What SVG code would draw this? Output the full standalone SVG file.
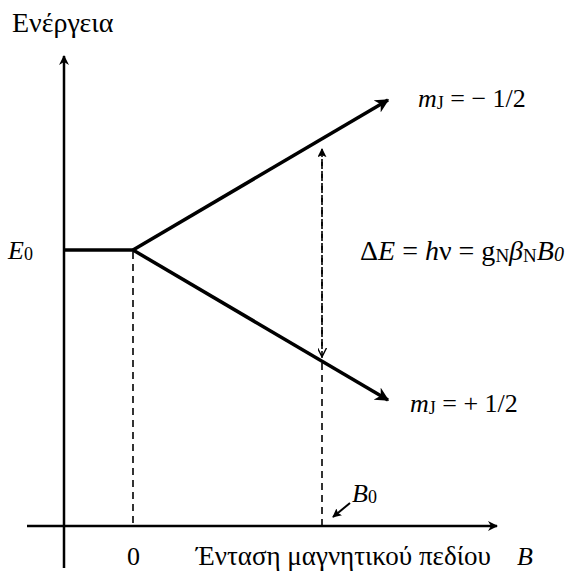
<svg xmlns="http://www.w3.org/2000/svg" width="570" height="571" viewBox="0 0 570 571">
<style>
text{font-family:"Liberation Serif","DejaVu Serif",serif;fill:#000}
.t{font-size:26px}
.g{font-size:28px}
.i{font-style:italic}
.s{font-size:18px}
.ax{stroke:#000;stroke-width:2.5;fill:none}
.lv{stroke:#000;stroke-width:3.5;fill:none}
.ds{stroke:#000;stroke-width:1.6;stroke-dasharray:7,5;fill:none}
</style>
<defs>
<marker id="ah" viewBox="0 0 10 10" refX="9" refY="5" markerWidth="10" markerHeight="10" markerUnits="userSpaceOnUse" orient="auto">
<path d="M0,0 L10,5 L0,10 L3,5 Z" fill="#000"/>
</marker>
<marker id="ahl" viewBox="0 0 10 10" refX="9" refY="5" markerWidth="14" markerHeight="14" markerUnits="userSpaceOnUse" orient="auto">
<path d="M0,0 L10,5 L0,10 L3,5 Z" fill="#000"/>
</marker>
<marker id="ahs" viewBox="0 0 10 10" refX="9" refY="5" markerWidth="9" markerHeight="9" markerUnits="userSpaceOnUse" orient="auto">
<path d="M0,0 L10,5 L0,10 L2,5 Z" fill="#000"/>
</marker>
<marker id="ahv" viewBox="0 0 10 10" refX="9" refY="5" markerWidth="9" markerHeight="9" markerUnits="userSpaceOnUse" orient="auto">
<path d="M0,0 L10,5 L0,10" fill="none" stroke="#000" stroke-width="1.5"/>
</marker>
</defs>
<g id="axes">
<line class="ax" x1="64" y1="568" x2="64" y2="56" marker-end="url(#ah)"/>
<line class="ax" x1="27" y1="526" x2="497" y2="526" marker-end="url(#ah)"/>
</g>
<g id="connectors">
<line class="lv" x1="64" y1="250" x2="133" y2="250"/>
<line class="lv" x1="133" y1="250" x2="388" y2="100" marker-end="url(#ahl)"/>
<line class="lv" x1="133" y1="250" x2="388" y2="400" marker-end="url(#ahl)"/>
<line class="ds" x1="133" y1="252" x2="133" y2="526"/>
<line class="ds" x1="322" y1="526" x2="322" y2="149" marker-end="url(#ahs)"/>
<line class="ds" x1="322" y1="150" x2="322" y2="356" marker-end="url(#ahv)"/>
<line stroke="#000" stroke-width="2" x1="350" y1="503" x2="333" y2="517" marker-end="url(#ahs)"/>
</g>
<g id="labels">
<text class="g" x="12" y="32">Ενέργεια</text>
<text class="t" x="8" y="259"><tspan class="i">E</tspan><tspan class="s" dy="1">0</tspan></text>
<text class="t" x="418" y="107"><tspan class="i">m</tspan><tspan class="s" dy="2">J</tspan><tspan dy="-2"> = − 1/2</tspan></text>
<text class="t" x="410" y="412"><tspan class="i">m</tspan><tspan class="s" dy="2">J</tspan><tspan dy="-2"> = + 1/2</tspan></text>
<text x="360" y="260" style="font-size:28px">Δ<tspan class="i">E</tspan> = <tspan class="i">h</tspan>ν = g<tspan style="font-size:19px" dy="2">N</tspan><tspan class="i" dy="-2">β</tspan><tspan style="font-size:19px" dy="2">N</tspan><tspan class="i" dy="-2">B<tspan style="font-size:20px" dy="1">0</tspan></tspan></text>
<text class="t" x="352" y="502"><tspan class="i">B</tspan><tspan class="s" dy="1">0</tspan></text>
<text class="t" x="127" y="565">0</text>
<text x="196" y="565" style="font-size:27px">Ένταση μαγνητικού πεδίου</text>
<text class="t i" x="517" y="565">B</text>
</g>
</svg>
